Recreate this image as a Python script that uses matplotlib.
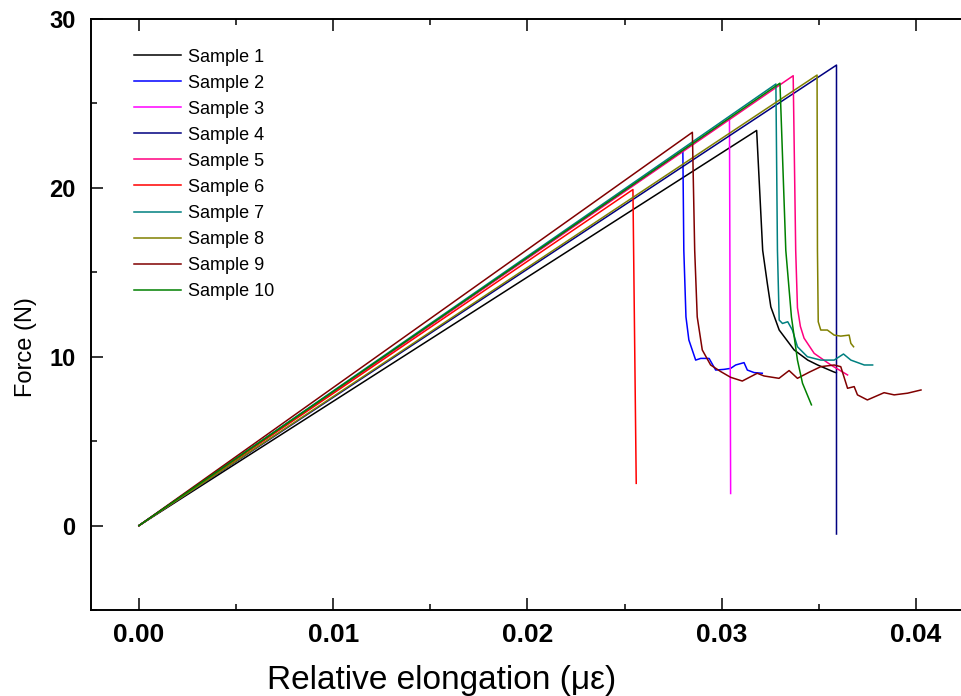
import matplotlib
matplotlib.use("Agg")
import matplotlib.pyplot as plt
from matplotlib.ticker import MultipleLocator

FONT = "Liberation Sans"

labels = ["Sample 1", "Sample 2", "Sample 3", "Sample 4", "Sample 5",
          "Sample 6", "Sample 7", "Sample 8", "Sample 9", "Sample 10"]
colors = ["#000000", "#0000FF", "#FF00FF", "#000080", "#FF0080",
          "#FF0000", "#008080", "#808000", "#800000", "#008000"]

# strain / force readings per sample
x1 = [0, 0.0318, 0.03211, 0.03235, 0.03253, 0.03296, 0.03373, 0.03443,
      0.03494, 0.03577, 0.0359]
y1 = [0, 23.4, 16.3, 14.33, 12.95, 11.58, 10.4, 9.8, 9.51, 9.1, 9.05]
x2 = [0, 0.0280, 0.02805, 0.02816, 0.02831, 0.02866, 0.02892, 0.02935, 0.02969,
      0.03012, 0.03046, 0.03072, 0.03115, 0.03132, 0.03167, 0.03209]
y2 = [0, 22.2, 16.3, 12.36, 10.99, 9.8, 9.9, 9.9, 9.21,
      9.25, 9.31, 9.51, 9.65, 9.21, 9.06, 9.02]
x3 = [0, 0.03040, 0.03046]
y3 = [0, 24.1, 1.9]
x4 = [0, 0.03591, 0.03591]
y4 = [0, 27.27, -0.5]
x5 = [0, 0.03368, 0.03381, 0.0339, 0.03405, 0.03424, 0.03476, 0.03562, 0.03648]
y5 = [0, 26.64, 16.3, 12.9, 11.8, 11.1, 10.2, 9.51, 8.92]
x6 = [0, 0.02543, 0.0256]
y6 = [0, 19.9, 2.5]
x7 = [0, 0.03279, 0.03287, 0.03296, 0.03313, 0.0334, 0.03364, 0.0339, 0.03441,
      0.0351, 0.03579, 0.03627, 0.03665, 0.03734, 0.03777]
y7 = [0, 26.15, 16.3, 12.17, 11.97, 12.07, 11.58, 10.59, 10.0,
      9.8, 9.8, 10.16, 9.8, 9.51, 9.51]
x8 = [0, 0.03491, 0.03493, 0.03497, 0.0351, 0.03544, 0.03579, 0.03613, 0.03656,
      0.03665, 0.03679]
y8 = [0, 26.68, 16.3, 12.07, 11.58, 11.58, 11.28, 11.22, 11.28, 10.79, 10.59]
x9 = [0, 0.02849, 0.02861, 0.02874, 0.029, 0.02943, 0.02995, 0.03046, 0.03106,
      0.03183, 0.03218, 0.03295, 0.03347, 0.0339, 0.0345, 0.0351, 0.03579,
      0.03613, 0.03648, 0.03682, 0.03699, 0.0375, 0.03836, 0.03888, 0.03957,
      0.04026]
y9 = [0, 23.29, 16.3, 12.36, 10.4, 9.51, 9.12, 8.78, 8.56,
      9.02, 8.86, 8.72, 9.18, 8.72, 9.08, 9.41, 9.51,
      9.41, 8.13, 8.23, 7.74, 7.44, 7.87, 7.74, 7.84,
      8.03]
x10 = [0, 0.03300, 0.0333, 0.03359, 0.0339, 0.03416, 0.03462]
y10 = [0, 26.2, 16.3, 12.36, 9.8, 8.43, 7.15]

xs = [x1, x2, x3, x4, x5, x6, x7, x8, x9, x10]
ys = [y1, y2, y3, y4, y5, y6, y7, y8, y9, y10]

fig = plt.figure(figsize=(9.61, 6.96), dpi=100)
ax = fig.add_axes([91/961, 86/696, 870/961, 591/696])

for x, y, c, lab in zip(xs, ys, colors, labels):
    ax.plot(x, y, color=c, lw=1.1, label=lab)

ax.set_xlim(-0.00247, 0.04232)
ax.set_ylim(-5, 30)
ax.xaxis.set_major_locator(MultipleLocator(0.01))
ax.xaxis.set_minor_locator(MultipleLocator(0.005))
ax.yaxis.set_major_locator(MultipleLocator(10))
ax.yaxis.set_minor_locator(MultipleLocator(5))
ax.xaxis.set_major_formatter(plt.FuncFormatter(lambda v, p: "%.2f" % v))

ax.spines["right"].set_visible(False)
for s in ["left", "bottom", "top"]:
    ax.spines[s].set_linewidth(1.4)
ax.tick_params(which="both", direction="in", top=True, right=False, width=1.1)
ax.tick_params(which="major", length=8.5)
ax.tick_params(which="minor", length=4.3)
ax.tick_params(axis="x", pad=9)
ax.tick_params(axis="y", pad=11)

for t in ax.get_xticklabels():
    t.set_fontfamily(FONT)
    t.set_fontweight("bold")
    t.set_fontsize(19)
for t in ax.get_yticklabels():
    t.set_fontfamily(FONT)
    t.set_fontweight("bold")
    t.set_fontsize(17)

ax.set_xlabel("Relative elongation (\u03bc\u03b5)", fontfamily=FONT, fontsize=24)
ax.xaxis.set_label_coords((442-91)/870, (610-680)/591)
ax.xaxis.label.set_va("center")
ax.set_ylabel("Force (N)", fontfamily=FONT, fontsize=17)
ax.yaxis.set_label_coords((26-91)/870, (610-347)/591)
ax.yaxis.label.set_va("center")

ax.legend(loc="upper left", bbox_to_anchor=(0.0411, 0.9620), frameon=False,
          prop={"family": FONT, "size": 13}, handlelength=2.6,
          handletextpad=0.39, labelspacing=0.50, borderaxespad=0)

fig.savefig("out.png", dpi=100)
